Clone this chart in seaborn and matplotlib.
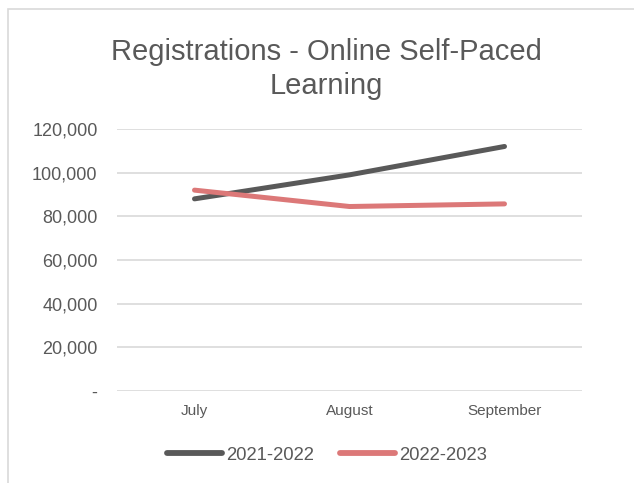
import pandas as pd
import matplotlib
matplotlib.use("Agg")
import matplotlib.pyplot as plt
import seaborn as sns
from matplotlib.ticker import FuncFormatter
from matplotlib.patches import Rectangle

# --- datos ---
months = ["July", "August", "September"]
seasons = ["2021-2022", "2022-2023"]
reg_2021_2022 = [88000, 99000, 112000]
reg_2022_2023 = [92000, 84500, 85700]

df = pd.DataFrame({
    "month": months * 2,
    "season": [seasons[0]] * 3 + [seasons[1]] * 3,
    "registrations": reg_2021_2022 + reg_2022_2023,
})

sns.set_theme(style="white")
plt.rcParams["font.family"] = ["Liberation Sans", "DejaVu Sans"]
text_col = "#595959"

fig = plt.figure(figsize=(6.34, 4.83), dpi=100)
ax = fig.add_axes([117 / 634, 1 - 391 / 483, 465 / 634, 262 / 483])

palette = {"2021-2022": "#595959", "2022-2023": "#DC7878"}
sns.lineplot(data=df, x="month", y="registrations", hue="season", palette=palette,
             sort=False, linewidth=3.6, solid_capstyle="round", ax=ax)

ax.set_xlim(-0.5, 2.5)
ax.set_ylim(0, 120000)
ax.set_yticks(range(0, 120001, 20000))
ax.yaxis.set_major_formatter(FuncFormatter(lambda v, p: "-" if v == 0 else f"{int(v):,}"))
ax.grid(axis="y", color="#D9D9D9", linewidth=1.2)
ax.grid(axis="x", visible=False)
for s in ax.spines.values():
    s.set_visible(False)
ax.tick_params(axis="y", length=0, pad=14, labelsize=13, labelcolor=text_col)
ax.tick_params(axis="x", length=0, pad=9, labelsize=11, labelcolor=text_col)
ax.set_xlabel("")
ax.set_ylabel("")

handles, labels = ax.get_legend_handles_labels()
ax.get_legend().remove()
for h in handles:
    h.set_linewidth(4.2)
    h.set_solid_capstyle("round")
fig.legend(handles, labels, loc="center", bbox_to_anchor=(327 / 634, 1 - 455 / 483), ncol=2,
           frameon=False, fontsize=13.3, labelcolor=text_col, handlelength=3.0,
           handletextpad=0.22, columnspacing=1.4)

# título en dos líneas (baseline = última línea)
fig.text(326 / 634, 1 - 94 / 483, "Registrations - Online Self-Paced\nLearning", ha="center",
         va="baseline", fontsize=21, color=text_col, linespacing=1.29)

# marco del gráfico
fig.patches.append(Rectangle((7.5 / 634, -0.1), 1.2, 1.1 - 9.5 / 483, transform=fig.transFigure,
                             fill=False, edgecolor="#D9D9D9", linewidth=1.2))

fig.savefig("out.png", dpi=100)
